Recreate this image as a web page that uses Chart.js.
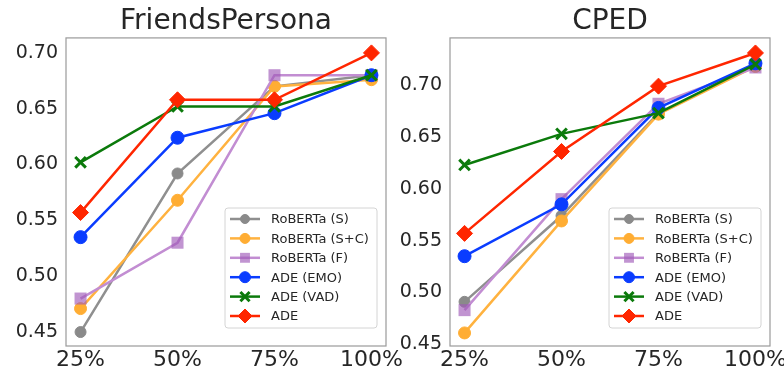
<!DOCTYPE html>
<html>
<head>
<meta charset="utf-8">
<script src="https://cdn.jsdelivr.net/npm/chart.js@4"></script>
<style>
  body { margin: 0; background: #fff; }
  canvas { position: absolute; top: 0; }
</style>
</head>
<body>
<canvas id="friendsChart" width="420" height="373" style="left:0"></canvas>
<canvas id="cpedChart" width="392" height="373" style="left:392px"></canvas>
<script>
// Categories and legend names
const categories = ['25%', '50%', '75%', '100%'];
const seriesNames = ['RoBERTa (S)', 'RoBERTa (S+C)', 'RoBERTa (F)', 'ADE (EMO)', 'ADE (VAD)', 'ADE'];

// FriendsPersona values
const fpRobertaS = [0.450, 0.592, 0.670, 0.680];
const fpRobertaSC = [0.471, 0.568, 0.670, 0.676];
const fpRobertaF = [0.480, 0.530, 0.680, 0.680];
const fpAdeEmo = [0.535, 0.624, 0.646, 0.680];
const fpAdeVad = [0.602, 0.652, 0.652, 0.680];
const fpAde = [0.557, 0.658, 0.658, 0.700];

// CPED values
const cpRobertaS = [0.491, 0.574, 0.673, 0.719];
const cpRobertaSC = [0.461, 0.569, 0.672, 0.718];
const cpRobertaF = [0.483, 0.590, 0.682, 0.717];
const cpAdeEmo = [0.535, 0.585, 0.678, 0.721];
const cpAdeVad = [0.623, 0.653, 0.673, 0.720];
const cpAde = [0.557, 0.636, 0.699, 0.731];

// Tick labels
const fpTicks = [0.45, 0.50, 0.55, 0.60, 0.65, 0.70];
const cpTicks = [0.45, 0.50, 0.55, 0.60, 0.65, 0.70];

// Line / marker styles
const styles = [
  { line: '#8f8f8f', fill: '#8a8a8a', point: 'circle', r: 5.5, lr: 4.5, bw: 1 },
  { line: '#ffb23f', fill: '#ffad33', point: 'circle', r: 6, lr: 5, bw: 1 },
  { line: '#c28dd2', fill: 'rgba(160,90,185,0.65)', point: 'rect', r: 8.5, lr: 7, bw: 0 },
  { line: '#0a3cff', fill: '#0a3cff', point: 'circle', r: 6.5, lr: 5.5, bw: 1 },
  { line: '#0b7a0b', fill: '#0b7a0b', point: 'crossRot', r: 7.5, lr: 6.5, bw: 3 },
  { line: '#ff2600', fill: '#ff2600', point: 'rectRot', r: 8, lr: 7, bw: 1 },
];

const textColor = '#262626';
const fontFamily = "'DejaVu Sans', sans-serif";

function makeDatasets(seriesList) {
  return seriesList.map((vals, i) => {
    const s = styles[i];
    return {
      label: seriesNames[i],
      data: vals.map((v, j) => ({ x: j, y: v })),
      borderColor: s.line,
      borderWidth: 2.5,
      pointStyle: s.point,
      pointRadius: s.r,
      pointBackgroundColor: s.fill,
      pointBorderColor: s.point === 'crossRot' ? s.fill : s.fill,
      pointBorderWidth: s.bw,
      tension: 0,
      order: seriesList.length - i,
    };
  });
}

// Frame around the plot area
const framePlugin = {
  id: 'frame',
  beforeDatasetsDraw(chart) {
    const a = chart.chartArea;
    const ctx = chart.ctx;
    ctx.save();
    ctx.strokeStyle = '#9a9a9a';
    ctx.lineWidth = 1.2;
    ctx.strokeRect(a.left, a.top, a.right - a.left, a.bottom - a.top);
    ctx.restore();
  },
};

// Legend drawn inside the plot area (lower right)
const insideLegend = {
  id: 'insideLegend',
  afterDatasetsDraw(chart) {
    const a = chart.chartArea;
    const ctx = chart.ctx;
    const w = 152, h = 120;
    const x = a.right - 9 - w;
    const y = a.bottom - 18 - h;
    ctx.save();
    ctx.beginPath();
    ctx.roundRect(x, y, w, h, 3);
    ctx.fillStyle = 'rgba(255,255,255,0.85)';
    ctx.fill();
    ctx.strokeStyle = '#d4d4d4';
    ctx.lineWidth = 1;
    ctx.stroke();
    ctx.font = '13px ' + fontFamily;
    ctx.textBaseline = 'middle';
    seriesNames.forEach((name, i) => {
      const s = styles[i];
      const ry = y + 11 + i * 19.4;
      ctx.strokeStyle = s.line;
      ctx.lineWidth = 2.5;
      ctx.beginPath();
      ctx.moveTo(x + 5, ry);
      ctx.lineTo(x + 35, ry);
      ctx.stroke();
      ctx.fillStyle = s.fill;
      ctx.strokeStyle = s.fill;
      ctx.lineWidth = s.bw;
      Chart.helpers.drawPoint(ctx, { pointStyle: s.point, radius: s.lr, borderWidth: s.bw, rotation: 0 }, x + 20, ry);
      ctx.fillStyle = textColor;
      ctx.fillText(name, x + 46, ry + 1);
    });
    ctx.restore();
  },
};

function makeChart(id, title, seriesList, yMin, yMax, yTicks, yWidth, padRight) {
  return new Chart(document.getElementById(id).getContext('2d'), {
    type: 'line',
    data: { datasets: makeDatasets(seriesList) },
    options: {
      responsive: false,
      animation: false,
      layout: { padding: { left: 0, right: padRight, top: 0, bottom: 0 } },
      plugins: {
        legend: { display: false },
        tooltip: { enabled: false },
        title: {
          display: true,
          text: title,
          fullSize: false,
          color: textColor,
          font: { family: fontFamily, size: 28, weight: 'normal', lineHeight: 1.14 },
          padding: { top: 6, bottom: 0 },
        },
      },
      scales: {
        x: {
          type: 'linear',
          min: -0.15,
          max: 3.15,
          grid: { display: false, drawTicks: false },
          border: { display: false },
          afterBuildTicks: (scale) => { scale.ticks = categories.map((c, i) => ({ value: i })); },
          afterFit: (scale) => { scale.height = 27; scale.paddingLeft = 0; scale.paddingRight = 0; },
          ticks: {
            autoSkip: false,
            maxRotation: 0,
            padding: 1,
            color: textColor,
            font: { family: fontFamily, size: 22 },
            callback: (v) => categories[v],
          },
        },
        y: {
          min: yMin,
          max: yMax,
          grid: { display: false, drawTicks: false },
          border: { display: false },
          afterBuildTicks: (scale) => { scale.ticks = yTicks.map((v) => ({ value: v })); },
          afterFit: (scale) => { scale.width = yWidth; scale.paddingTop = 0; scale.paddingBottom = 0; },
          ticks: {
            padding: 8,
            color: textColor,
            font: { family: fontFamily, size: 19 },
            callback: (v) => v.toFixed(2),
          },
        },
      },
    },
    plugins: [framePlugin, insideLegend],
  });
}

makeChart('friendsChart', 'FriendsPersona',
  [fpRobertaS, fpRobertaSC, fpRobertaF, fpAdeEmo, fpAdeVad, fpAde],
  0.4375, 0.7134, fpTicks, 66, 34);

makeChart('cpedChart', 'CPED',
  [cpRobertaS, cpRobertaSC, cpRobertaF, cpAdeEmo, cpAdeVad, cpAde],
  0.4484, 0.7455, cpTicks, 58, 14);
</script>
</body>
</html>
